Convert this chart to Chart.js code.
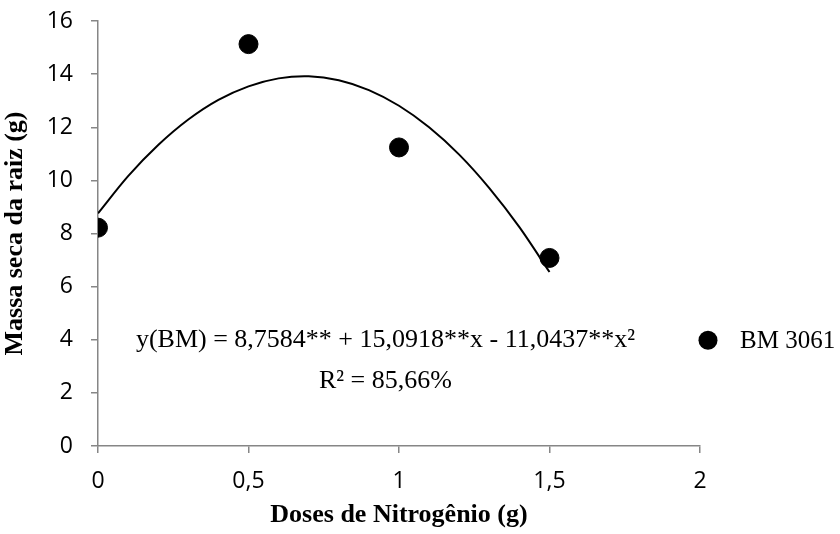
<!DOCTYPE html>
<html>
<head>
<meta charset="utf-8">
<script src="https://cdn.jsdelivr.net/npm/chart.js@4"></script>
<style>
	html, body { margin: 0; padding: 0; background: #fff; }
	#wrap { width: 840px; height: 534px; }
</style>
</head>
<body>
<div id="wrap"><canvas id="rootChart" width="840" height="534"></canvas></div>
<script>
// observed points
const doses = [0, 0.5, 1, 1.5];
const massaSeca = [8.22, 15.13, 11.24, 7.08];

// quadratic trend line
const trendDoses = [0, 0.1, 0.2, 0.3, 0.4, 0.5, 0.6, 0.7, 0.8, 0.9, 1.0, 1.1, 1.2, 1.3, 1.4, 1.5];
const trendMassa = [8.76, 10.16, 11.33, 12.29, 13.03, 13.54, 13.84, 13.92, 13.77, 13.40, 12.81, 12.00, 10.97, 9.71, 8.24, 6.55];

const xTicks = [0, 0.5, 1, 1.5, 2];
const yTicks = [0, 2, 4, 6, 8, 10, 12, 14, 16];

const seriesLabel = "BM 3061";
const equationText = "y(BM) = 8,7584** + 15,0918**x - 11,0437**x²";
const r2Text = "R² = 85,66%";

const axisGrey = "#868686";
const tickFont = { family: "'Open Sans', sans-serif", size: 23 };
const serif = "'Liberation Serif', 'Times New Roman', serif";

/**
 * Draw the equation and the legend entry beside the plot
 */
const annotations = {
	id: "annotations",
	afterDraw(chart) {
		const ctx = chart.ctx;
		const x = chart.scales.x;
		const y = chart.scales.y;
		ctx.save();
		ctx.fillStyle = "#000";
		ctx.font = "26px " + serif;
		ctx.textAlign = "center";
		ctx.textBaseline = "middle";
		const cx = x.getPixelForValue(0.955);
		ctx.fillText(equationText, cx, y.getPixelForValue(3.98));
		ctx.fillText(r2Text, cx, y.getPixelForValue(2.45));

		// legend
		const ly = y.getPixelForValue(3.98);
		ctx.beginPath();
		ctx.arc(chart.chartArea.right + 8, ly, 9.5, 0, Math.PI * 2);
		ctx.fill();
		ctx.font = "25px " + serif;
		ctx.textAlign = "left";
		ctx.fillText(seriesLabel, chart.chartArea.right + 40, ly + 1);
		ctx.restore();
	},
};

const rootChart = new Chart(document.getElementById("rootChart"), {
	type: "scatter",
	data: {
		datasets: [
			{
				label: seriesLabel,
				data: doses.map((d, i) => ({ x: d, y: massaSeca[i] })),
				pointRadius: 9.5,
				pointBackgroundColor: "#000",
				pointBorderColor: "#000",
				pointBorderWidth: 1,
				order: 1,
			},
			{
				label: "trend",
				data: trendDoses.map((d, i) => ({ x: d, y: trendMassa[i] })),
				showLine: true,
				borderColor: "#000",
				borderWidth: 2,
				pointRadius: 0,
				tension: 0.3,
				order: 2,
			},
		],
	},
	options: {
		responsive: false,
		animation: false,
		layout: {
			padding: { top: 21, right: 140, bottom: 0, left: 0 },
		},
		plugins: {
			legend: { display: false },
			tooltip: { enabled: false },
		},
		scales: {
			x: {
				type: "linear",
				min: 0,
				max: 2,
				afterBuildTicks: (scale) => {
					scale.ticks = xTicks.map((v) => ({ value: v }));
				},
				afterFit: (scale) => {
					scale.height = 88;
					scale.paddingLeft = 0;
					scale.paddingRight = 0;
				},
				ticks: {
					color: "#000",
					font: tickFont,
					padding: 15,
					callback: (v) => String(v).replace(".", ","),
				},
				grid: {
					drawOnChartArea: false,
					drawTicks: true,
					tickLength: 7,
					color: axisGrey,
					lineWidth: 1.5,
				},
				border: { display: true, color: axisGrey, width: 1.5 },
				title: {
					display: true,
					text: "Doses de Nitrogênio (g)",
					color: "#000",
					font: { family: serif, size: 26, weight: "bold" },
					padding: { top: 0, bottom: 3 },
				},
			},
			y: {
				type: "linear",
				min: 0,
				max: 16,
				afterBuildTicks: (scale) => {
					scale.ticks = yTicks.map((v) => ({ value: v }));
				},
				afterFit: (scale) => {
					scale.width = 98;
					scale.paddingTop = 0;
					scale.paddingBottom = 0;
				},
				ticks: {
					color: "#000",
					font: tickFont,
					padding: 18,
				},
				grid: {
					drawOnChartArea: false,
					drawTicks: true,
					tickLength: 7,
					color: axisGrey,
					lineWidth: 1.5,
				},
				border: { display: true, color: axisGrey, width: 1.5 },
				title: {
					display: true,
					text: "Massa seca da raiz (g)",
					color: "#000",
					font: { family: serif, size: 26, weight: "bold" },
					padding: { top: 0, bottom: 0, y: 0 },
				},
			},
		},
	},
	plugins: [annotations],
});
</script>
</body>
</html>
